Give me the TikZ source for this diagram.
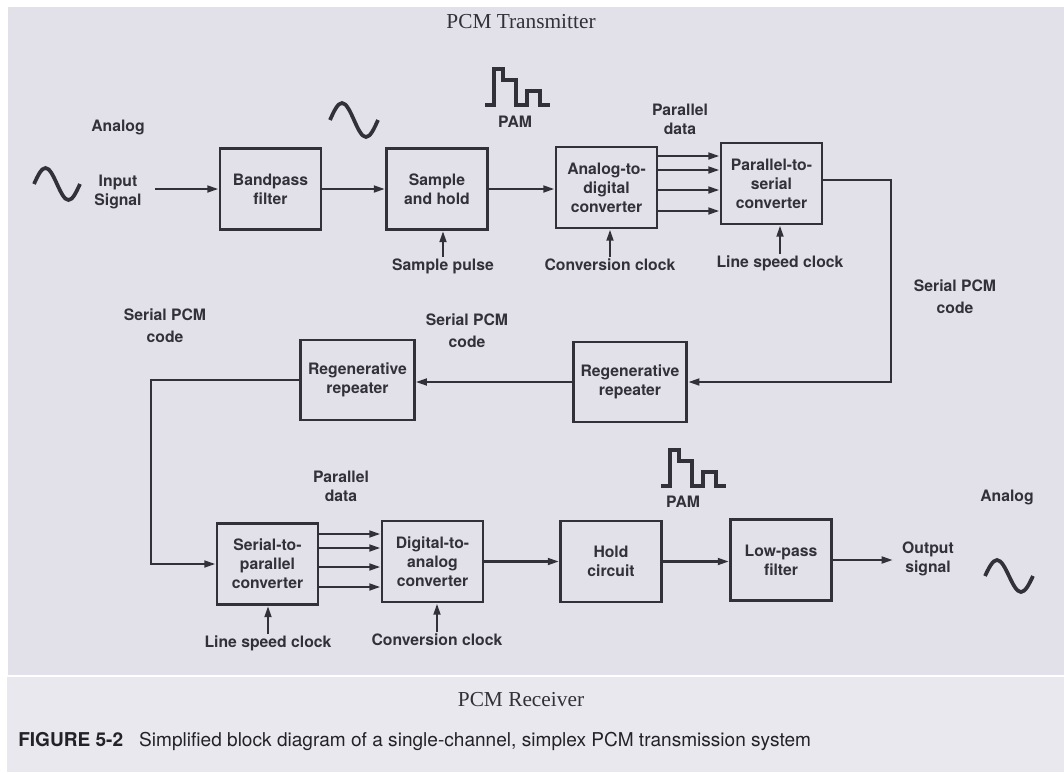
\documentclass[tikz,border=0pt]{standalone}
\usepackage{fontspec}
\usepackage{graphicx}
\setsansfont{TeX Gyre Heros}
\setmainfont{Liberation Serif}
\usetikzlibrary{arrows.meta}
\definecolor{page}{RGB}{226,224,232}
\definecolor{strip}{RGB}{234,232,239}
\definecolor{ink}{RGB}{50,48,56}
\newcommand{\boxfont}{\sffamily\bfseries\fontsize{11.8}{14.2}\selectfont}
\newcommand{\lblfont}{\sffamily\bfseries\fontsize{11.8}{16.5}\selectfont}
\newcommand{\pamstep}[1]{\draw[wave] #1 -- ++(9,0) -- ++(0,-36) -- ++(9,0)
  -- ++(0,11) -- ++(13,0) -- ++(0,25) -- ++(11,0) -- ++(0,-14) -- ++(13,0)
  -- ++(0,14) -- ++(10,0);}
\tikzset{
block/.style={
	  draw=ink, line width=2.1pt, text=ink, align=center, font=\boxfont,
	    minimum width=75.75pt, minimum height=60.75pt},
repeater/.style={block, minimum width=85pt, minimum height=60pt},
lbl/.style={text=ink, align=center, font=\lblfont, inner sep=1pt},
sig/.style={draw=ink, line width=1.9pt, -{Triangle[length=8.5pt,width=5pt]}},
wave/.style={draw=ink, line width=2.8pt},
title/.style={text=ink, font=\rmfamily\fontsize{16}{19}\selectfont}
}

\begin{document}
\begin{tikzpicture}[x=0.75pt, y=-0.75pt]
	\useasboundingbox (0,0) rectangle (1064,772);
	\fill[white] (0,0) rectangle (1064,772);
	\fill[page] (8,7) rectangle (1064,675);
	\fill[strip] (7,677) rectangle (1064,772);

	\node[title] (tx) at (521,22) {PCM Transmitter};
	\node[title] (rx) at (521,700) {PCM Receiver};

	\node[block] (bpf) at (270.5,189) {Bandpass\\filter};
	\node[block] (sh) at (437,189) {Sample\\and hold};
	\node[block] (adc) at (606.5,187.5) {Analog-to-\\digital\\converter};
	\node[block] (ps) at (771.5,183.5) {Parallel-to-\\serial\\converter};
	\node[repeater] (rr1) at (630,382) {Regenerative\\repeater};
	\node[repeater] (rr2) at (357.5,380) {Regenerative\\repeater};
	\node[block] (sp) at (267.5,564) {Serial-to-\\parallel\\converter};
	\node[block] (da) at (432.5,561.5) {Digital-to-\\analog\\converter};
	\node[block] (hold) at (611,561.5) {Hold\\circuit};
	\node[block] (lpf) at (781,560) {Low-pass\\filter};

	\node[lbl] (an1) at (118,127) {Analog};
	\node[lbl, font=\boxfont] (insig) at (118,192) {Input\\Signal};
	\node[lbl] (pam1) at (515,122) {PAM};
	\node[lbl, font=\boxfont] (pd1) at (680,119) {Parallel\\data};
	\node[lbl] (spl) at (443,266) {Sample pulse};
	\node[lbl] (cc1) at (610,265) {Conversion clock};
	\node[lbl] (lsc1) at (780,263) {Line speed clock};
	\node[lbl] (pcm1) at (955,297) {Serial PCM\\code};
	\node[lbl] (pcm2) at (467,331) {Serial PCM\\code};
	\node[lbl] (pcm3) at (165,326) {Serial PCM\\code};
	\node[lbl, font=\boxfont] (pd2) at (341,486) {Parallel\\data};
	\node[lbl] (lsc2) at (268,643) {Line speed clock};
	\node[lbl] (cc2) at (437,640) {Conversion clock};
	\node[lbl] (pam2) at (683,502) {PAM};
	\node[lbl] (an2) at (1007,497) {Analog};
	\node[lbl, font=\boxfont] (outsig) at (928,559) {Output\\signal};

	\coordinate (in) at (155,189);
	\coordinate (c1) at (891,180);
	\coordinate (c2) at (151,380);
	\coordinate (out) at (893,560);

	\draw[sig] (in) -- (bpf);
	\draw[sig] (bpf) -- (sh);
	\draw[sig] (sh.east) -- (sh.east -| adc.west);
	\foreach \y in {156,170,190,211}
		\draw[sig] (adc.east |- 0,\y) -- (ps.west |- 0,\y);
	\draw[sig] (ps.east |- c1) -- (c1) |- (rr1.east);
	\draw[sig] (rr1.west) -- (rr1.west -| rr2.east);
	\draw[sig] (rr2.west) -| (c2 |- sp.west) -- (sp.west);
	\foreach \y in {534,548,567,587}
		\draw[sig] (sp.east |- 0,\y) -- (da.west |- 0,\y);
	\draw[sig] (da) -- (hold);
	\draw[sig] (hold.east) -- (hold.east -| lpf.west);
	\draw[sig] (lpf) -- (out);

	\draw[sig] (spl.north) -- (spl.north |- sh.south);
	\draw[sig] (cc1.north) -- (cc1.north |- adc.south);
	\draw[sig] (lsc1.north) -- (lsc1.north |- ps.south);
	\draw[sig] (lsc2.north) -- (lsc2.north |- sp.south);
	\draw[sig] (cc2.north) -- (cc2.north |- da.south);

	\draw[wave] (34,184) sin (45.5,168) cos (57,184) sin (68.5,200) cos (80,184);
	\draw[wave] (330,120) sin (342,103) cos (354,120) sin (366,137) cos (378,120);
	\draw[wave] (985,576) sin (997,560) cos (1009,576) sin (1021,592) cos (1033,576);
	\pamstep{(485,105)}
	\pamstep{(661,486)}

	\node[anchor=base west, text=ink!70!black, inner sep=0pt,
		font=\sffamily\fontsize{14.3}{16}\selectfont] (fig) at (18,746)
		{{\bfseries FIGURE 5-2}\hspace{12pt}Simplified block diagram of a single-channel, simplex PCM transmission system};
\end{tikzpicture}
\end{document}
